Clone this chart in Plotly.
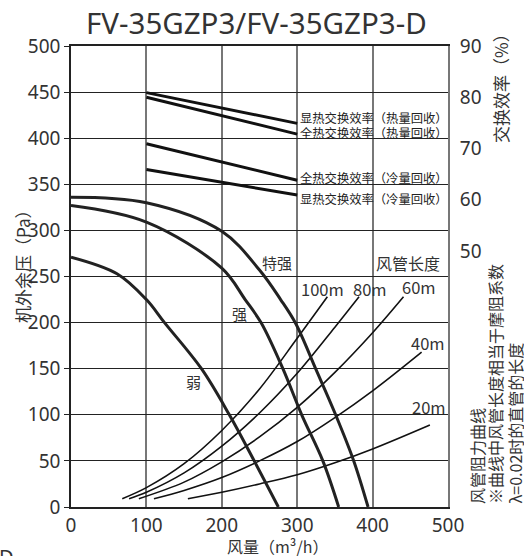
import plotly.graph_objects as go

# ---------------- data ----------------
# fan performance curves (风量 m3/h, 机外余压 Pa)
tq_x = [0, 100, 200, 250, 278, 298, 325, 351, 375, 394]
tq_y = [336, 330, 299, 257, 225, 199, 149, 100, 50, 0]
q_x = [0, 100, 200, 231, 252, 281, 306, 334, 355]
q_y = [327, 309, 259, 225, 200, 150, 100, 50, 0]
r_x = [0, 61, 100, 124, 173, 210, 243, 275]
r_y = [271, 253, 225, 200, 150, 100, 50, 0]

# duct resistance curves
d100_x = [68, 100, 150, 200, 250, 300, 340]
d100_y = [9, 21, 47, 83, 128, 183, 228]
d80_x = [77, 100, 150, 200, 250, 300, 350, 382]
d80_y = [9, 16, 37, 66, 102, 145, 195, 228]
d60_x = [90, 150, 200, 250, 300, 350, 400, 441]
d60_y = [9, 27, 49, 76, 108, 146, 189, 228]
d40_x = [110, 150, 200, 250, 300, 350, 400, 465]
d40_y = [9, 18, 32, 50, 71, 97, 126, 168]
d20_x = [155, 200, 250, 300, 350, 400, 476]
d20_y = [9, 16, 25, 35, 48, 63, 89]

# exchange efficiency (%), right axis
eff_x = [100, 300]
eff_sh_heat = [80.9, 74.9]
eff_fh_heat = [80.0, 72.8]
eff_fh_cool = [70.9, 63.8]
eff_sh_cool = [65.9, 60.9]

x_ticks = [0, 100, 200, 300, 400, 500]
y_ticks = [0, 50, 100, 150, 200, 250, 300, 350, 400, 450, 500]
y2_ticks = [50, 60, 70, 80, 90]

title_text = "FV-35GZP3/FV-35GZP3-D"
# --------------------------------------

W, H = 524, 556
L, R, T, B = 71, 76, 46, 49
PW, PH = W - L - R, H - T - B


def px(xp):
    return (xp - L) / PW


def py(yp):
    return (H - B - yp) / PH


FONT = "Noto Sans, Noto Sans CJK SC, sans-serif"
CJK = "Noto Sans CJK SC, Noto Sans, sans-serif"
TXT = "#333333"

fig = go.Figure()

for xs, ys in [(d100_x, d100_y), (d80_x, d80_y), (d60_x, d60_y), (d40_x, d40_y), (d20_x, d20_y)]:
    fig.add_trace(go.Scatter(x=xs, y=ys, mode="lines", line=dict(color="#111", width=1.6, shape="spline"),
                             hoverinfo="skip"))

for xs, ys in [(tq_x, tq_y), (q_x, q_y), (r_x, r_y)]:
    fig.add_trace(go.Scatter(x=xs, y=ys, mode="lines", line=dict(color="#222", width=3, shape="spline"),
                             hoverinfo="skip"))

for ys in [eff_sh_heat, eff_fh_heat, eff_fh_cool, eff_sh_cool]:
    fig.add_trace(go.Scatter(x=eff_x, y=ys, mode="lines", yaxis="y2", line=dict(color="#111", width=3),
                             hoverinfo="skip"))

ann = []
# title
ann.append(dict(text=title_text, x=px(256), y=py(22), xref="paper", yref="paper", showarrow=False,
                font=dict(family=FONT, size=29.5, color=TXT), xanchor="center", yanchor="middle"))
# axis titles
ann.append(dict(text="机外余压（Pa）", x=px(22), y=py(262), xref="paper", yref="paper", showarrow=False,
                textangle=-90, font=dict(family=CJK, size=17, color=TXT), xanchor="center", yanchor="middle"))
ann.append(dict(text="风量（m³/h）", x=px(277), y=py(546), xref="paper", yref="paper", showarrow=False,
                font=dict(family=CJK, size=16, color=TXT), xanchor="center", yanchor="middle"))
ann.append(dict(text="交换效率（%）", x=px(500), y=py(84), xref="paper", yref="paper", showarrow=False,
                textangle=-90, font=dict(family=CJK, size=17, color=TXT), xanchor="center", yanchor="middle"))
# notes at bottom right
for t, xp in [("风管阻力曲线", 477), ("※曲线中风管长度相当于摩阻系数", 495), ("λ=0.02时的直管的长度", 514)]:
    ann.append(dict(text=t, x=px(xp), y=py(506), xref="paper", yref="paper", showarrow=False,
                    textangle=-90, font=dict(family=CJK, size=16, color=TXT), xanchor="center", yanchor="bottom"))
ann.append(dict(text="D", x=px(-3), y=py(541), xref="paper", yref="paper", showarrow=False,
                font=dict(family=FONT, size=20, color=TXT), xanchor="left", yanchor="top"))

# curve labels (data coordinates)
for t, x, y, s in [("特强", 273, 265, 15), ("强", 224, 210, 15), ("弱", 162, 136, 15),
                   ("风管长度", 447, 265, 16), ("100m", 334, 236, 16.5), ("80m", 397, 236, 16.5),
                   ("60m", 461, 239, 16.5), ("40m", 473, 178, 16.5), ("20m", 475, 108, 16.5)]:
    ann.append(dict(text=t, x=x, y=y, xref="x", yref="y", showarrow=False,
                    font=dict(family=CJK, size=s, color=TXT), xanchor="center", yanchor="middle"))

for t, y in [("显热交换效率（热量回收）", 75.9), ("全热交换效率（热量回收）", 73.1),
             ("全热交换效率（冷量回收）", 64.2), ("显热交换效率（冷量回收）", 60.1)]:
    ann.append(dict(text=t, x=301, y=y, xref="x", yref="y2", showarrow=False,
                    font=dict(family=CJK, size=12.3, color="#222"), xanchor="left", yanchor="middle"))

fig.update_layout(
    width=W, height=H,
    margin=dict(l=L, r=R, t=T, b=B, pad=0),
    paper_bgcolor="white", plot_bgcolor="white",
    showlegend=False,
    annotations=ann,
    xaxis=dict(range=[0, 500], tickvals=x_ticks, showgrid=True, gridcolor="#777", gridwidth=1.5,
               showline=True, linecolor="#222", linewidth=1.5, mirror=True, ticks="", zeroline=False,
               tickfont=dict(family=FONT, size=19, color=TXT), fixedrange=True),
    yaxis=dict(range=[0, 500], tickvals=y_ticks, showgrid=True, gridcolor="#222", gridwidth=1.2,
               showline=True, linecolor="#222", linewidth=1.5, ticks="outside", ticklen=5, tickcolor="#222",
               zeroline=False, tickfont=dict(family=FONT, size=19, color=TXT), fixedrange=True),
    yaxis2=dict(range=[0, 90], tickvals=y2_ticks, overlaying="y", side="right", showgrid=False,
                showline=True, linecolor="#777", linewidth=2, ticks="outside", ticklen=6,
                tickcolor="rgba(0,0,0,0)", zeroline=False,
                tickfont=dict(family=FONT, size=19, color=TXT), fixedrange=True),
)

fig.write_html("out.html", config={"displayModeBar": False},
               post_script="document.body.style.margin='0';document.body.style.overflow='hidden';")
